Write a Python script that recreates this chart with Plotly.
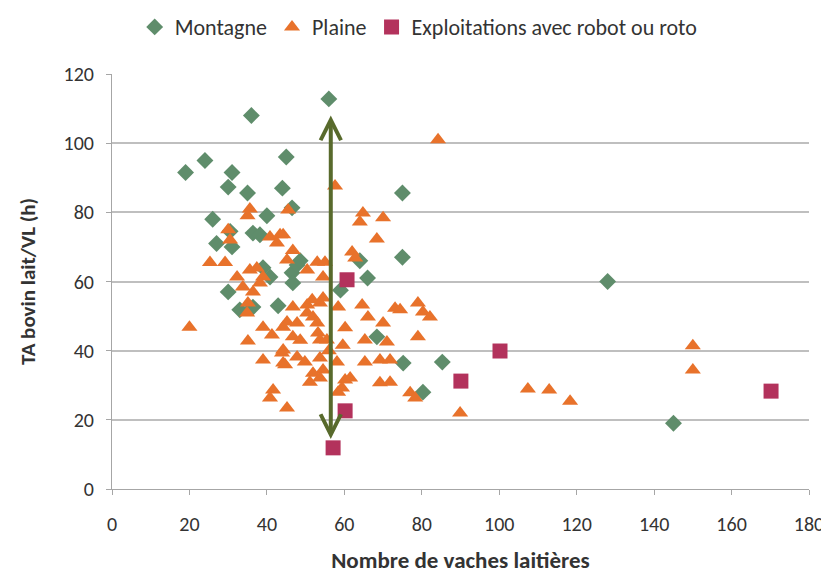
import plotly.graph_objects as go

# ---- data ----
montagne_x = [19, 24, 36, 56, 31, 30, 35, 45, 44, 46.5, 40, 26, 36.4, 38.2, 27, 31, 30.5,
              30, 33, 36.4, 42.9, 40.8, 39, 46.5, 46.7, 47.8, 48.6, 59, 66, 64, 75, 75,
              68.4, 85.3, 80.3, 75.2, 128, 145]
montagne_y = [91.5, 95, 108, 112.8, 91.5, 87.3, 85.6, 96, 87, 81.3, 79, 78, 74, 73.5, 71, 70, 74.5,
              57, 51.8, 52.6, 53, 61.3, 64, 62.5, 59.6, 64.8, 66, 57.5, 61, 66, 67, 85.6,
              44, 36.7, 28, 36.4, 60, 19]

plaine_x = [20, 25.3, 29.2, 30, 35.6, 35, 40.8, 43.4, 42.6, 44.2, 45.5, 46.7, 45.2, 50.4, 53, 54.5, 55,
            32.3, 35.6, 37.4, 39, 33.8, 36.4, 38.2, 35.1, 34.9,
            35.1, 39, 44.2, 39, 43.9, 44.2, 41.6, 40.8, 45.2,
            46.7, 50.4, 53.7, 58.4, 54.5, 51.7,
            45.2, 47.8, 51.9, 53, 50.4, 53.2, 55.5, 60.2, 46.7, 53.7,
            44.2, 47.8, 49.8, 44.7, 53.7, 54.5, 51.9, 51.1, 58.1, 60.2, 59.4, 58.4, 57.6,
            66.1, 70, 73.1, 65.3, 71, 65.3, 69.2, 71.8, 69.2, 71.8, 74.4, 79, 80.3, 82.1, 79,
            77, 78.3, 89.9, 107.4, 112.9, 118.3, 150, 150, 84.2,
            64.8, 64, 70, 68.4, 62, 62.8, 64.6, 61.5, 59.6, 53.7, 41.3, 56, 30.5, 48.6]
plaine_y = [46.8, 65.5, 65.5, 75, 81, 79, 72.9, 73.5, 71.1, 73.5, 80.7, 69, 66.2, 63.3, 65.6, 61.3, 65.6,
            61.3, 63.3, 63.9, 61.3, 58.4, 57, 59.6, 53.8, 50.9,
            42.8, 46.8, 46.8, 37.3, 39.3, 36.4, 28.6, 26.3, 23.4,
            52.6, 53.2, 53.8, 52.6, 55.2, 54.7,
            48.3, 48, 49.7, 48, 50.9, 45.1, 43.1, 46.6, 44, 43.1,
            40.2, 38.2, 36.7, 35.9, 37.9, 34.4, 33.5, 30.9, 36.7, 31.5, 29.2, 28, 87.6,
            49.7, 48, 52.3, 43.1, 42.5, 36.7, 37.3, 37.3, 30.7, 30.9, 51.8, 53.8, 51.2, 49.7, 44,
            27.8, 26.3, 22, 28.9, 28.6, 25.4, 41.4, 34.4, 101,
            79.8, 77.2, 78.4, 72.3, 68.5, 66.8, 53.2, 32.1, 41.6, 32.1, 44.5, 40, 72, 43]

robot_x = [60.7, 100.2, 90.1, 60.2, 57.1, 170.2]
robot_y = [60.5, 39.9, 31.2, 22.6, 11.9, 28.3]

arrow_x = 56.5
arrow_top = 108
arrow_bottom = 14

x_ticks = [0, 20, 40, 60, 80, 100, 120, 140, 160, 180]
y_ticks = [0, 20, 40, 60, 80, 100, 120]

FONT = "Calibri, Carlito, Lato, 'Open Sans', sans-serif"

fig = go.Figure()
fig.add_trace(go.Scatter(x=montagne_x, y=montagne_y, mode="markers", name="Montagne",
                         marker=dict(symbol="diamond", size=13, color="#5f8d6b")))
fig.add_trace(go.Scatter(x=plaine_x, y=plaine_y, mode="markers", name="Plaine",
                         marker=dict(symbol="triangle-up", size=14, color="#e8722b")))
fig.add_trace(go.Scatter(x=robot_x, y=robot_y, mode="markers", name="Exploitations avec robot ou roto",
                         marker=dict(symbol="square", size=15, color="#b3325c")))

fig.add_annotation(x=arrow_x, y=arrow_top, ax=arrow_x, ay=arrow_bottom,
                   xref="x", yref="y", axref="x", ayref="y", text="",
                   showarrow=True, arrowhead=5, startarrowhead=5, arrowside="end+start",
                   arrowwidth=4, arrowsize=1, startarrowsize=1, arrowcolor="#586a2c",
                   standoff=0, startstandoff=0)

fig.update_layout(
    width=829, height=579,
    margin=dict(l=104, r=28, t=66, b=98, autoexpand=False),
    paper_bgcolor="white", plot_bgcolor="white",
    font=dict(family=FONT, size=20, color="#333333"),
    showlegend=True,
    legend=dict(orientation="h", x=0.44, xanchor="center", y=1.113, yanchor="middle",
                font=dict(size=22, color="#333333"), itemwidth=30, traceorder="normal"),
    xaxis=dict(range=[0, 180], tickvals=x_ticks, showgrid=False, zeroline=False,
               showline=True, linecolor="#a6a6a6", linewidth=1, automargin=False,
               ticks="outside", ticklen=5, tickcolor="#a6a6a6", ticklabelstandoff=12,
               tickfont=dict(size=20),
               title=dict(text="<b>Nombre de vaches laitières</b>", font=dict(size=23, color="#333333"),
                          standoff=16)),
    yaxis=dict(range=[0, 120], tickvals=y_ticks, showgrid=True, gridcolor="#bfbfbf", gridwidth=2,
               zeroline=False, showline=True, linecolor="#a6a6a6", linewidth=1, automargin=False,
               ticks="outside", ticklen=5, tickcolor="#a6a6a6", ticklabelstandoff=8,
               tickfont=dict(size=20),
               title=dict(text="<b>TA bovin lait/VL (h)</b>", font=dict(size=21, color="#333333"),
                          standoff=22)),
)

fig.write_html("out.html")
